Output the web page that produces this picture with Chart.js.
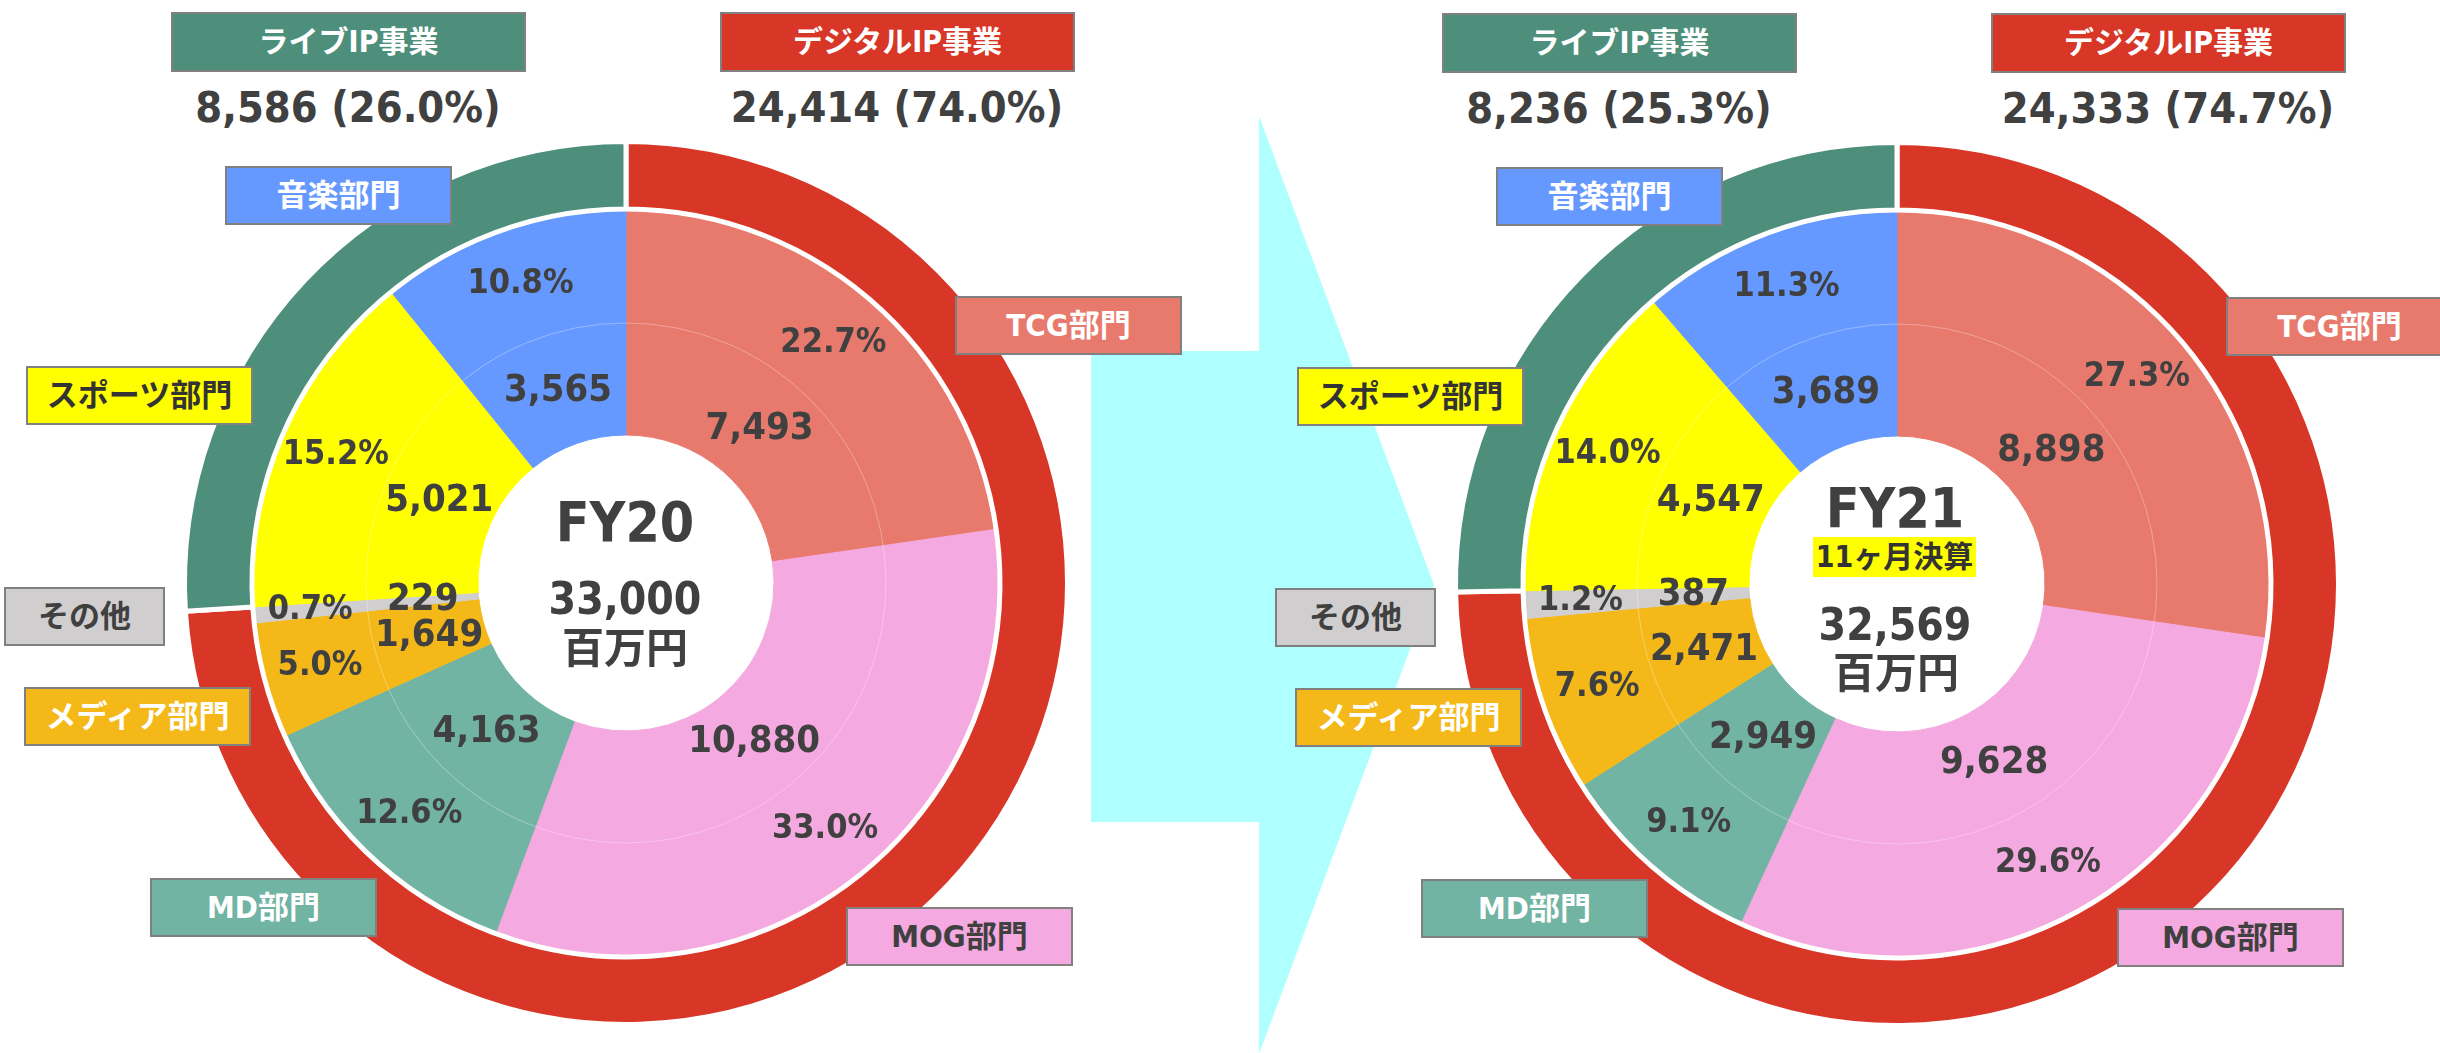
<!DOCTYPE html>
<html lang="ja">
<head>
<meta charset="utf-8">
<title>FY20 / FY21 セグメント別売上高</title>
<script src="https://cdn.jsdelivr.net/npm/chart.js@4.4.1/dist/chart.umd.min.js"></script>
<style>
  html, body { margin: 0; padding: 0; background: #fff; }
  #stage {
    position: relative; width: 2440px; height: 1053px; overflow: hidden;
    font-family: 'DejaVu Sans Condensed', 'DejaVu Sans', 'Noto Sans CJK JP', sans-serif;
    font-weight: bold; font-stretch: condensed; color: #404040;
  }
  #arrow { position: absolute; left: 0; top: 0; }
  canvas { position: absolute; }
  .box {
    position: absolute; box-sizing: border-box; border: 2px solid #808080;
    display: flex; align-items: center; justify-content: center;
    white-space: nowrap; line-height: 1;
  }
  .txt { position: absolute; transform: translate(-50%, -50%); line-height: 1; white-space: nowrap; }
</style>
</head>
<body>
<div id="stage">
  <svg id="arrow" width="2440" height="1053">
    <polygon points="1091,351 1259,351 1259,116 1434,585 1259,1054 1259,822 1091,822" fill="#b0ffff"/>
  </svg>
  <canvas id="fy20" width="900" height="900" style="left:176px;top:133px"></canvas>
  <canvas id="fy21" width="900" height="900" style="left:1447px;top:134px"></canvas>
</div>
<script>
// segment sales, million yen
const segments = ['TCG部門', 'MOG部門', 'MD部門', 'メディア部門', 'その他', 'スポーツ部門', '音楽部門'];
const fy20 = [7493, 10880, 4163, 1649, 229, 5021, 3565];
const fy21 = [8898, 9628, 2949, 2471, 387, 4547, 3689];

const businesses = ['デジタルIP事業', 'ライブIP事業'];
const fy20Business = [24414, 8586];
const fy21Business = [24333, 8236];

const years = ['FY20', 'FY21'];
const unit = '百万円';
const fy21Note = '11ヶ月決算';

const segmentColors = ['#e8796d', '#f4a9e0', '#72b4a3', '#f4b919', '#d0cece', '#ffff00', '#6699ff'];
const segmentTextColors = ['#fff', '#404040', '#fff', '#fff', '#404040', '#333', '#fff'];
const businessColors = ['#d83627', '#4e8f7c'];

// label boxes, offsets from the chart centre
const boxPos = [[329, -287], [220, 324], [-476, 295], [-602, 104], [-622, 4], [-600, -217], [-401, -417]];
const titlePos = [[94, -571], [-455, -571]];

const numFont = "'DejaVu Sans Condensed', 'DejaVu Sans', sans-serif";
const fmt = v => v.toLocaleString('en-US');
const pct = (v, t) => (v / t * 100).toFixed(1) + '%';
const sum = arr => arr.reduce((a, b) => a + b, 0);

const ringLabels = {
  id: 'ringLabels',
  afterDatasetsDraw(chart) {
    const ctx = chart.ctx;
    const values = chart.data.datasets[2].data;
    const total = sum(values);
    const inner = chart.getDatasetMeta(2).data;
    const middle = chart.getDatasetMeta(1).data;
    ctx.save();
    // faint seam between the two inner rings
    ctx.beginPath();
    ctx.arc(inner[0].x, inner[0].y, inner[0].outerRadius, 0, Math.PI * 2);
    ctx.strokeStyle = 'rgba(255,255,255,0.3)';
    ctx.lineWidth = 1;
    ctx.stroke();

    ctx.fillStyle = '#404040';
    ctx.textAlign = 'center';
    ctx.textBaseline = 'middle';
    ctx.fontStretch = 'condensed';
    ctx.font = 'bold 34px ' + numFont;
    middle.forEach((arc, i) => {
      const p = arc.tooltipPosition();
      ctx.fillText(pct(values[i], total), p.x, p.y);
    });
    ctx.font = 'bold 38px ' + numFont;
    inner.forEach((arc, i) => {
      const p = arc.tooltipPosition();
      ctx.fillText(fmt(values[i]), p.x, p.y);
    });
    ctx.restore();
  }
};

const stage = document.getElementById('stage');

function addBox(text, x, y, w, h, bg, color, size) {
  const d = document.createElement('div');
  d.className = 'box';
  d.textContent = text;
  Object.assign(d.style, { left: x + 'px', top: y + 'px', width: w + 'px', height: h + 'px',
    background: bg, color: color, fontSize: size + 'px' });
  stage.appendChild(d);
  return d;
}

function addText(text, x, y, size) {
  const d = document.createElement('div');
  d.className = 'txt';
  d.textContent = text;
  Object.assign(d.style, { left: x + 'px', top: y + 'px', fontSize: size + 'px' });
  stage.appendChild(d);
  return d;
}

function drawYear(canvasId, cx, cy, values, business) {
  const total = sum(values);
  new Chart(document.getElementById(canvasId), {
    type: 'doughnut',
    data: {
      labels: segments,
      datasets: [
        { data: business, backgroundColor: businessColors, borderColor: '#fff',
          borderWidth: 5, borderAlign: 'center', weight: 67.5 },
        { data: values, backgroundColor: segmentColors, borderColor: segmentColors,
          borderWidth: 1, weight: 114 },
        { data: values, backgroundColor: segmentColors, borderColor: segmentColors,
          borderWidth: 1, weight: 112 }
      ]
    },
    options: {
      responsive: false,
      animation: false,
      events: [],
      radius: 441.5,
      cutout: '33.52%',
      layout: { padding: 0 },
      plugins: { legend: { display: false }, tooltip: { enabled: false } }
    },
    plugins: [ringLabels]
  });

  segments.forEach((s, i) => {
    addBox(s, cx + boxPos[i][0], cy + boxPos[i][1], i === 4 ? 161 : 227, 59,
      segmentColors[i], segmentTextColors[i], 31);
  });
  businesses.forEach((b, i) => {
    const [dx, dy] = titlePos[i];
    addBox(b, cx + dx, cy + dy, 355, 60, businessColors[i], '#fff', 30);
    addText(fmt(business[i]) + ' (' + pct(business[i], total) + ')', cx + dx + 177, cy + dy + 95, 43);
  });
  return total;
}

const t20 = drawYear('fy20', 626, 583, fy20, fy20Business);
addText(years[0], 625, 522, 55);
addText(fmt(t20), 625, 599, 44);
addText(unit, 625, 649, 42);

const t21 = drawYear('fy21', 1897, 584, fy21, fy21Business);
addText(years[1], 1895, 508, 55);
const note = addBox(fy21Note, 1813, 537, 163, 40, '#ffff00', '#333', 30);
note.style.border = 'none';
addText(fmt(t21), 1895, 625, 44);
addText(unit, 1896, 674, 42);
</script>
</body>
</html>
